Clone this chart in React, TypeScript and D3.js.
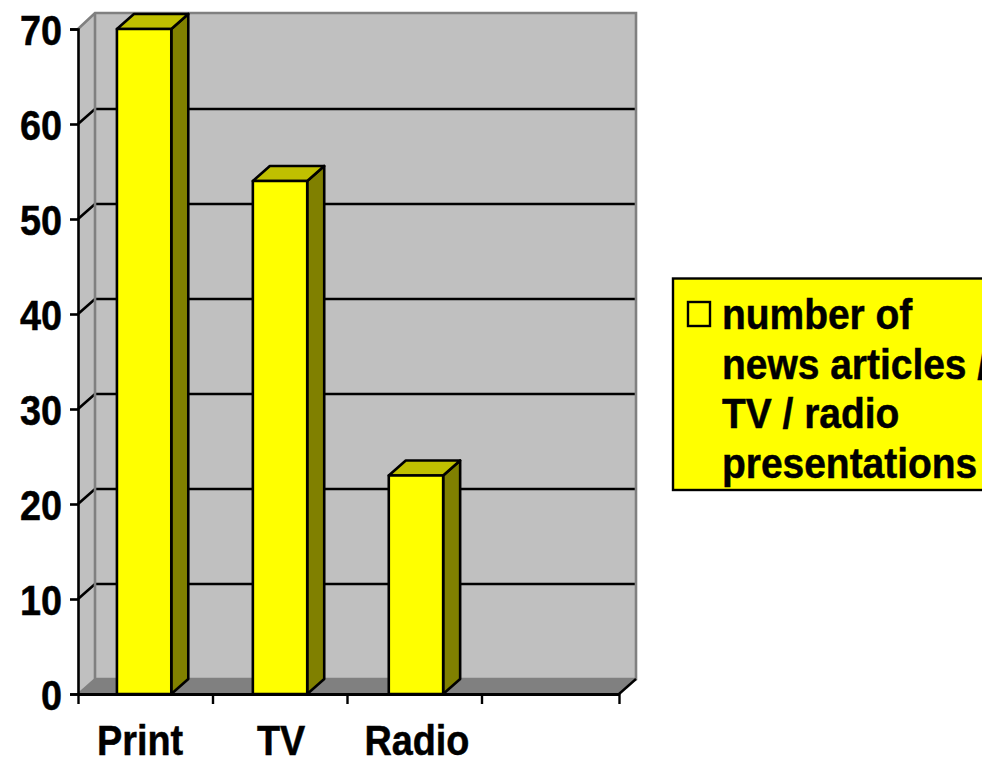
import { useEffect, useRef } from "react";
import * as d3 from "d3";

const categories = ["Print", "TV", "Radio", ""];
const values = [70, 54, 23];
const yTicks = [0, 10, 20, 30, 40, 50, 60, 70];
const legendLines = ["number of", "news articles /", "TV / radio", "presentations"];

const FONT = "'Liberation Sans', Arial, sans-serif";
const YELLOW = "#ffff00";
const FONT_SIZE = 42;
const AXIS_SQUEEZE = 0.9; // the original type is narrower than Liberation at this height
const LEGEND_SQUEEZE = 0.927;
const TEXT_WEIGHT = 0.5; // thin outline, the original glyphs are a bit heavier

export default function App() {
  const ref = useRef<SVGSVGElement>(null);
  useEffect(() => {
    if (!ref.current) return;
    const svg = d3.select(ref.current);
    svg.selectAll("*").remove();

    const left = 78;
    const right = 619;
    const dx = 17;
    const dy = 15;

    const y = d3.scaleLinear().domain([0, 70]).range([694, 29]);
    const x = d3.scaleBand<string>()
      .domain(categories)
      .range([left - 0.5, right - 0.5])
      .paddingInner(0.6)
      .paddingOuter(0.29);
    const slot = d3.scaleLinear().domain([0, 3, 4]).range([left, 481.5, right]);
    const poly = (pts: [number, number][]) => d3.line()(pts) + "Z";

    // walls and floor
    svg.append("path")
      .attr("d", poly([[left + dx, y(70) - dy - 1], [right + dx, y(70) - dy - 1], [right + dx, y(0) - dy], [left + dx, y(0) - dy]]))
      .attr("fill", "#c0c0c0");
    svg.append("path")
      .attr("d", poly([[left, y(70)], [left + dx, y(70) - dy - 1], [left + dx, y(0) - dy], [left, y(0)]]))
      .attr("fill", "#c0c0c0");
    svg.append("path")
      .attr("d", poly([[left, y(0)], [left + dx, y(0) - dy], [right + dx, y(0) - dy], [right, y(0)]]))
      .attr("fill", "#808080");

    // gridlines run along the back wall and fold down the side wall
    yTicks.filter((t) => t > 0 && t < 70).forEach((t) => {
      svg.append("path")
        .attr("d", d3.line()([[left, y(t)], [left + dx, y(t) - dy], [right + dx, y(t) - dy]]))
        .attr("fill", "none").attr("stroke", "#000").attr("stroke-width", 2.6);
    });

    // wall edges
    svg.append("path")
      .attr("d", d3.line()([[left, y(70)], [left + dx, y(70) - dy - 1], [right + dx, y(70) - dy - 1], [right + dx, y(0) - dy], [left + dx, y(0) - dy], [left + dx, y(70) - dy - 1]]))
      .attr("fill", "none").attr("stroke", "#808080").attr("stroke-width", 2.6);
    svg.append("path")
      .attr("d", d3.line()([[left, y(0)], [left + dx, y(0) - dy]]))
      .attr("stroke", "#808080").attr("stroke-width", 2);
    svg.append("path")
      .attr("d", d3.line()([[right, y(0)], [right + dx, y(0) - dy]]))
      .attr("stroke", "#000").attr("stroke-width", 2.4);

    // bars
    values.forEach((v, i) => {
      const x0 = x(categories[i])!;
      const x1 = x0 + x.bandwidth();
      const top = y(v);
      const base = y(0);
      const g = svg.append("g").attr("stroke", "#000").attr("stroke-width", 2.6).attr("stroke-linejoin", "round");
      g.append("path").attr("d", poly([[x1, top], [x1 + dx, top - dy], [x1 + dx, base - dy], [x1, base]])).attr("fill", "#808000");
      g.append("path").attr("d", poly([[x0, top], [x0 + dx, top - dy], [x1 + dx, top - dy], [x1, top]])).attr("fill", "#c0c000");
      g.append("path").attr("d", poly([[x0, top], [x1, top], [x1, base], [x0, base]])).attr("fill", YELLOW);
    });

    // axes
    const yAxis = svg.append("g")
      .attr("transform", `translate(${left},0)`)
      .call(d3.axisLeft(y).tickValues(yTicks).tickSize(8).tickPadding(8).tickFormat(d3.format("d")));
    yAxis.select(".domain").attr("stroke", "#000").attr("stroke-width", 2.6);
    yAxis.selectAll("line").attr("stroke", "#000").attr("stroke-width", 2.6);
    yAxis.selectAll("text")
      .attr("font-family", FONT).attr("font-size", FONT_SIZE).attr("font-weight", 700).attr("fill", "#000")
      .attr("stroke", "#000").attr("stroke-width", TEXT_WEIGHT)
      .attr("x", -16 / AXIS_SQUEEZE)
      .attr("dy", "0.37em")
      .attr("transform", `scale(${AXIS_SQUEEZE},1)`);

    const xAxis = svg.append("g")
      .attr("transform", `translate(0,${y(0)})`)
      .call(d3.axisBottom(slot).tickValues([0, 1, 2, 3, 4]).tickSize(10).tickSizeOuter(0).tickFormat(() => ""));
    xAxis.select(".domain").attr("stroke", "#000").attr("stroke-width", 3.2);
    xAxis.selectAll("line").attr("stroke", "#000").attr("stroke-width", 2.4);

    svg.append("g").selectAll("text")
      .data(categories.filter((c) => c))
      .join("text")
      .attr("transform", (c) => `translate(${x(c)! + x.bandwidth() / 2 + (c === "Print" ? -4 : 1)},755) scale(${AXIS_SQUEEZE},1)`)
      .attr("text-anchor", "middle")
      .attr("font-family", FONT).attr("font-size", FONT_SIZE).attr("font-weight", 700)
      .attr("stroke", "#000").attr("stroke-width", TEXT_WEIGHT)
      .text((c) => c);

    // legend
    svg.append("rect")
      .attr("x", 673).attr("y", 278.5).attr("width", 340).attr("height", 211.5)
      .attr("fill", YELLOW).attr("stroke", "#000").attr("stroke-width", 2.4);
    svg.append("rect")
      .attr("x", 688).attr("y", 302).attr("width", 22).attr("height", 24)
      .attr("fill", YELLOW).attr("stroke", "#000").attr("stroke-width", 2.4);
    svg.append("g").selectAll("text")
      .data(legendLines)
      .join("text")
      .attr("transform", (_, i) => `translate(722,${329 + i * 49.5}) scale(${LEGEND_SQUEEZE},1)`)
      .attr("font-family", FONT).attr("font-size", FONT_SIZE).attr("font-weight", 700)
      .attr("stroke", "#000").attr("stroke-width", TEXT_WEIGHT)
      .text((d) => d);
  }, []);
  return (
    <svg
      ref={ref}
      width={982}
      height={758}
      style={{ position: "fixed", left: 0, top: 0, display: "block", background: "#fff" }}
    />
  );
}
